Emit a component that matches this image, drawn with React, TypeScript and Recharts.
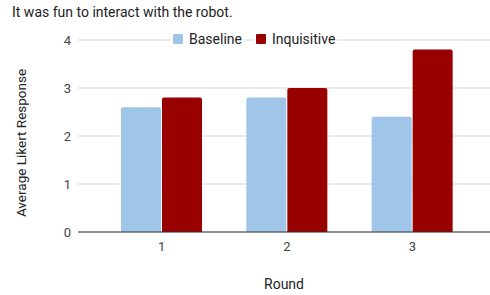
import React from 'react';
import { BarChart, Bar, XAxis, YAxis, CartesianGrid } from 'recharts';

const rounds = ['1', '2', '3'];
const baseline = [2.6, 2.8, 2.4];
const inquisitive = [2.8, 3.0, 3.8];
const yTicks = [0, 1, 2, 3, 4];

const series = [
  { key: 'baseline', name: 'Baseline', color: '#9fc5e8' },
  { key: 'inquisitive', name: 'Inquisitive', color: '#990000' },
];

const data = rounds.map((round, i) => ({
  round,
  baseline: baseline[i],
  inquisitive: inquisitive[i],
}));

const LegendBox = () => (
  <div style={{ position: 'absolute', top: 31, left: 171, display: 'flex', alignItems: 'center', fontSize: 14, color: '#222' }}>
    {series.map((s, i) => (
      <div
        key={s.key}
        style={{
          display: 'flex',
          alignItems: 'center',
          background: '#fff',
          padding: '0 2px',
          marginLeft: i === 0 ? 0 : 10,
        }}
      >
        <span style={{ width: 10, height: 10, background: s.color, borderRadius: 1, marginRight: 6, display: 'inline-block' }} />
        <span>{s.name}</span>
      </div>
    ))}
  </div>
);

// rotated y-axis title, placed like the original
const YTitle = () => (
  <text x={21} y={143} transform="rotate(-90 21 143)" textAnchor="middle" dominantBaseline="central" fill="#222" fontSize={13.5}>
    Average Likert Response
  </text>
);

export default function App() {
  return (
    <div style={{ position: 'absolute', top: 0, left: 0, width: 490, height: 295, background: '#fff', fontFamily: 'Roboto, sans-serif' }}>
      <div style={{ position: 'absolute', top: 4, left: 12, fontSize: 14, color: '#222', whiteSpace: 'nowrap' }}>
        It was fun to interact with the robot.
      </div>
      <BarChart
        width={490}
        height={295}
        data={data}
        margin={{ top: 40, right: 0, bottom: 0, left: 0 }}
        barGap={1}
        barSize={40}
      >
        <CartesianGrid vertical={false} stroke="#d6d6d6" />
        <XAxis
          dataKey="round"
          height={63}
          padding={{ left: 21, right: 15 }}
          axisLine={{ stroke: '#333' }}
          tickLine={false}
          tickSize={0}
          tickMargin={10}
          tick={{ fill: '#444', fontSize: 13 }}
          label={{ value: 'Round', position: 'insideBottom', offset: 6, fill: '#222', fontSize: 14 }}
        />
        <YAxis
          width={78}
          domain={[0, 4]}
          ticks={yTicks}
          axisLine={false}
          tickLine={false}
          tickSize={0}
          tickMargin={7}
          tick={{ fill: '#444', fontSize: 13 }}
          label={{ content: () => <YTitle /> }}
        />
        {series.map((s) => (
          <Bar key={s.key} dataKey={s.key} name={s.name} fill={s.color} radius={[2, 2, 0, 0]} isAnimationActive={false} />
        ))}
      </BarChart>
      <LegendBox />
    </div>
  );
}
